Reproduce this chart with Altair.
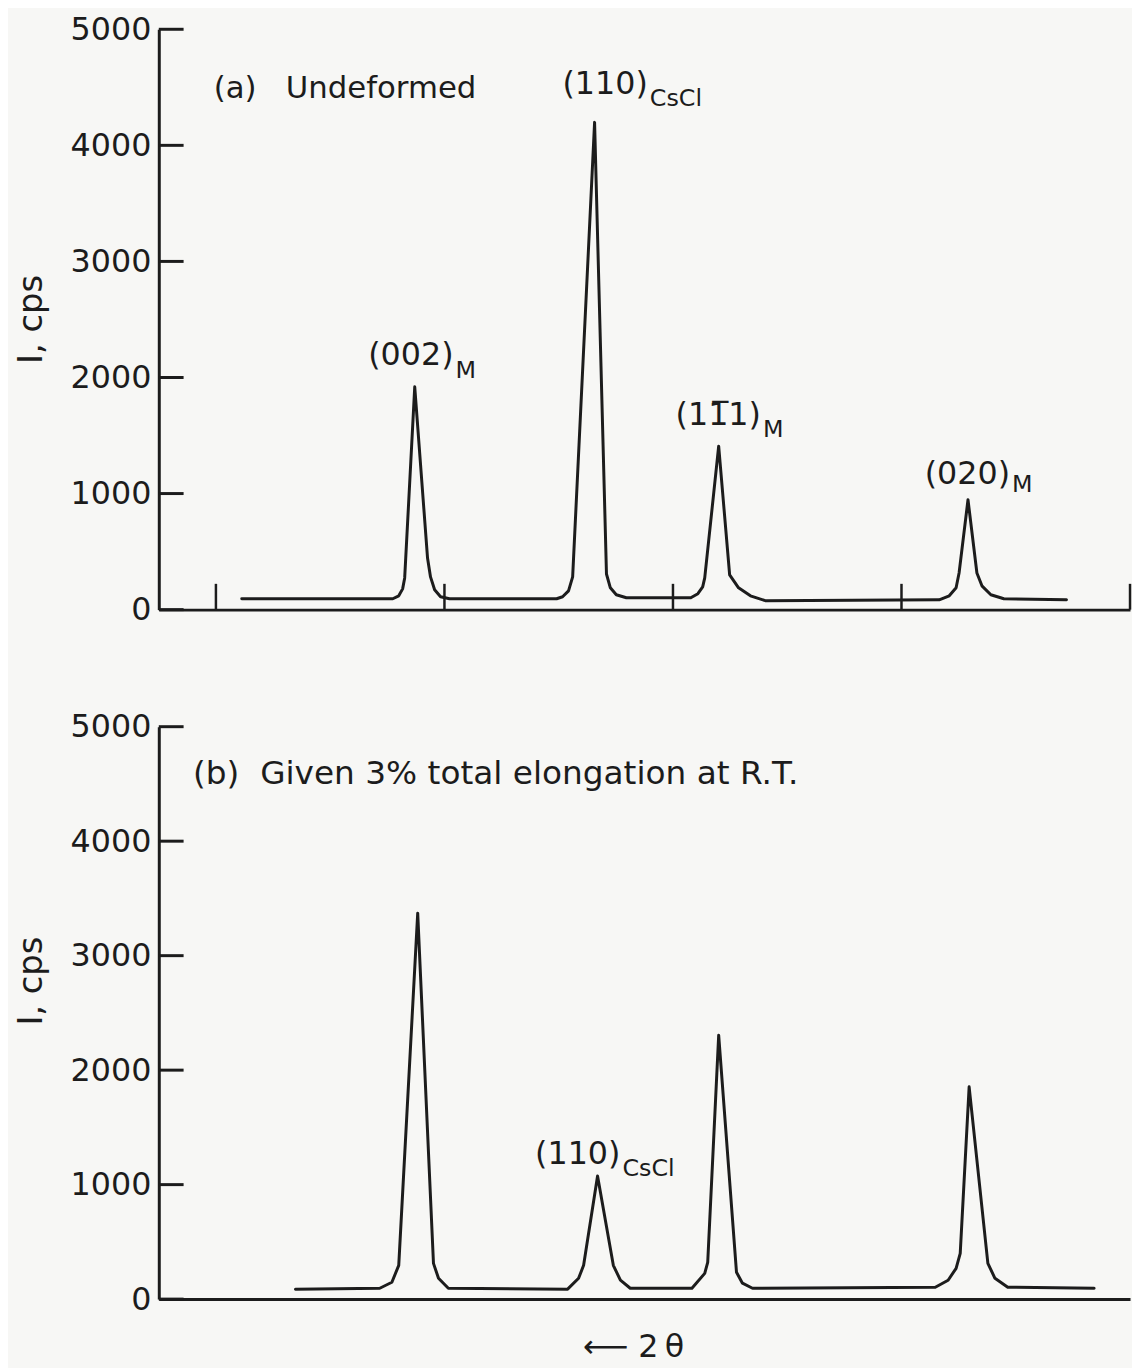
import altair as alt
import pandas as pd

INK = "#1c1c1c"
FONT = "DejaVu Sans"
NB = "\u00a0"

# ---- data ----------------------------------------------------------------
# position along the scan (chart divisions, tick spacing = 1) and intensity (cps)
A_POS = [0.113, 0.774, 0.800, 0.817, 0.826, 0.870, 0.926, 0.939, 0.957, 0.983, 1.022,
         1.491, 1.517, 1.543, 1.561, 1.657, 1.709, 1.726, 1.752, 1.796,
         2.078, 2.109, 2.130, 2.139, 2.200, 2.248, 2.287, 2.339, 2.404,
         3.165, 3.209, 3.239, 3.252, 3.291, 3.330, 3.352, 3.391, 3.448, 3.722]
A_CPS = [94, 94, 119, 179, 273, 1920, 444, 282, 171, 111, 94,
         94, 111, 162, 282, 4198, 307, 188, 128, 102,
         102, 137, 196, 273, 1408, 299, 188, 119, 77,
         85, 119, 188, 316, 947, 316, 205, 128, 94, 85]

B_POS = [0.348, 0.717, 0.770, 0.800, 0.883, 0.952, 0.974, 1.017,
         1.539, 1.587, 1.609, 1.670, 1.739, 1.770, 1.813,
         2.083, 2.139, 2.152, 2.200, 2.278, 2.304, 2.348,
         3.148, 3.204, 3.239, 3.257, 3.296, 3.378, 3.409, 3.465, 3.843]
B_CPS = [87, 95, 147, 295, 3371, 312, 182, 95,
         87, 182, 295, 1075, 295, 165, 95,
         95, 225, 321, 2305, 234, 139, 95,
         104, 165, 269, 399, 1854, 312, 182, 104, 95]

Y_TICKS = [0, 1000, 2000, 3000, 4000, 5000]
A_X_TICKS = [0, 1, 2, 3, 4]
X_DOMAIN = [-0.25, 4.0]

# panel captions
A_CAPTION = ["(a)" + NB * 3 + "Undeformed"]
A_CAPTION_POS = [-0.01]
A_CAPTION_CPS = [4488]
B_CAPTION = ["(b)" + NB * 2 + "Given 3% total elongation at R.T."]
B_CAPTION_POS = [-0.10]
B_CAPTION_CPS = [4584]

# peak labels: main part (ends at the junction) and subscript (starts there)
A_PEAK_MAIN = ["(110)", "(002)", "(1\u0031\u03051)", "(020)"]
A_PEAK_SUB = ["CsCl", "M", "M", "M"]
A_PEAK_POS = [1.89, 1.04, 2.385, 3.475]
A_MAIN_CPS = [4531, 2193, 1672, 1169]
A_SUB_CPS = [4395, 2057, 1545, 1076]

B_PEAK_MAIN = ["(110)"]
B_PEAK_SUB = ["CsCl"]
B_PEAK_POS = [1.77]
B_MAIN_CPS = [1265]
B_SUB_CPS = [1136]

W = 979
HA = 585
HB = 577


def panel(pos, cps, height, caption, cap_pos, cap_cps, cap_size,
          mains, subs, peak_pos, main_cps, sub_cps,
          x_ticks, title_y, x_title):
    xs = alt.Scale(domain=X_DOMAIN, nice=False, zero=False)
    ys = alt.Scale(domain=[0, 5000], nice=False)

    trace = pd.DataFrame({"pos": pos, "cps": cps, "k": list(range(len(pos)))})
    x_axis = alt.Axis(ticks=False, labels=False, grid=False, domainColor=INK,
                      domainWidth=3, title=x_title if x_title else None,
                      titleFont=FONT, titleFontSize=32, titleFontWeight="normal",
                      titleColor=INK, titlePadding=33, titleX=478)
    y_axis = alt.Axis(values=Y_TICKS, format="d", ticks=False, grid=False,
                      domainColor=INK, domainWidth=3, labelFont=FONT,
                      labelFontSize=32, labelColor=INK, labelPadding=8,
                      title="I, cps", titleFont=FONT, titleFontSize=34,
                      titleFontWeight="normal", titleColor=INK, titleX=-128,
                      titleY=title_y, titleBaseline="middle")
    line = alt.Chart(trace).mark_line(color=INK, strokeWidth=3, strokeJoin="round",
                                      strokeCap="round").encode(
        x=alt.X("pos:Q", scale=xs, axis=x_axis),
        y=alt.Y("cps:Q", scale=ys, axis=y_axis),
        order="k:Q",
    )

    yt = alt.Chart(pd.DataFrame({"v": Y_TICKS})).mark_rule(
        color=INK, strokeWidth=3).encode(
        y=alt.Y("v:Q", scale=ys), x=alt.value(0), x2=alt.value(25))

    layers = [line, yt]

    if x_ticks:
        xt = alt.Chart(pd.DataFrame({"t": x_ticks})).mark_rule(
            color=INK, strokeWidth=2.5).encode(
            x=alt.X("t:Q", scale=xs), y=alt.value(height), y2=alt.value(height - 26))
        layers.append(xt)

    cap = alt.Chart(pd.DataFrame({"txt": caption, "p": cap_pos, "c": cap_cps})).mark_text(
        align="left", baseline="middle", font=FONT, fontSize=cap_size, color=INK).encode(
        x=alt.X("p:Q", scale=xs), y=alt.Y("c:Q", scale=ys), text="txt:N")
    layers.append(cap)

    lab = pd.DataFrame({"main": mains, "sub": subs, "p": peak_pos,
                        "mc": main_cps, "sc": sub_cps})
    main_t = alt.Chart(lab).mark_text(
        align="right", baseline="middle", font=FONT, fontSize=32, color=INK).encode(
        x=alt.X("p:Q", scale=xs), y=alt.Y("mc:Q", scale=ys), text="main:N")
    sub_t = alt.Chart(lab).mark_text(
        align="left", baseline="middle", font=FONT, fontSize=24, color=INK, dx=2).encode(
        x=alt.X("p:Q", scale=xs), y=alt.Y("sc:Q", scale=ys), text="sub:N")
    layers += [main_t, sub_t]

    return alt.layer(*layers).properties(width=W, height=height)


pa = panel(A_POS, A_CPS, HA, A_CAPTION, A_CAPTION_POS, A_CAPTION_CPS, 31,
           A_PEAK_MAIN, A_PEAK_SUB, A_PEAK_POS, A_MAIN_CPS, A_SUB_CPS,
           A_X_TICKS, 292, None)
pb = panel(B_POS, B_CPS, HB, B_CAPTION, B_CAPTION_POS, B_CAPTION_CPS, 33,
           B_PEAK_MAIN, B_PEAK_SUB, B_PEAK_POS, B_MAIN_CPS, B_SUB_CPS,
           None, 256, "\u27f5 2\u2009\u03b8")

chart = alt.vconcat(pa, pb, spacing=118, bounds="flush").properties(
    padding={"left": 7, "top": 0, "right": 0, "bottom": 0},
    background="#f7f7f5",
).configure_view(stroke=None)

chart.save("out.html", embed_options={"renderer": "svg", "actions": False})
